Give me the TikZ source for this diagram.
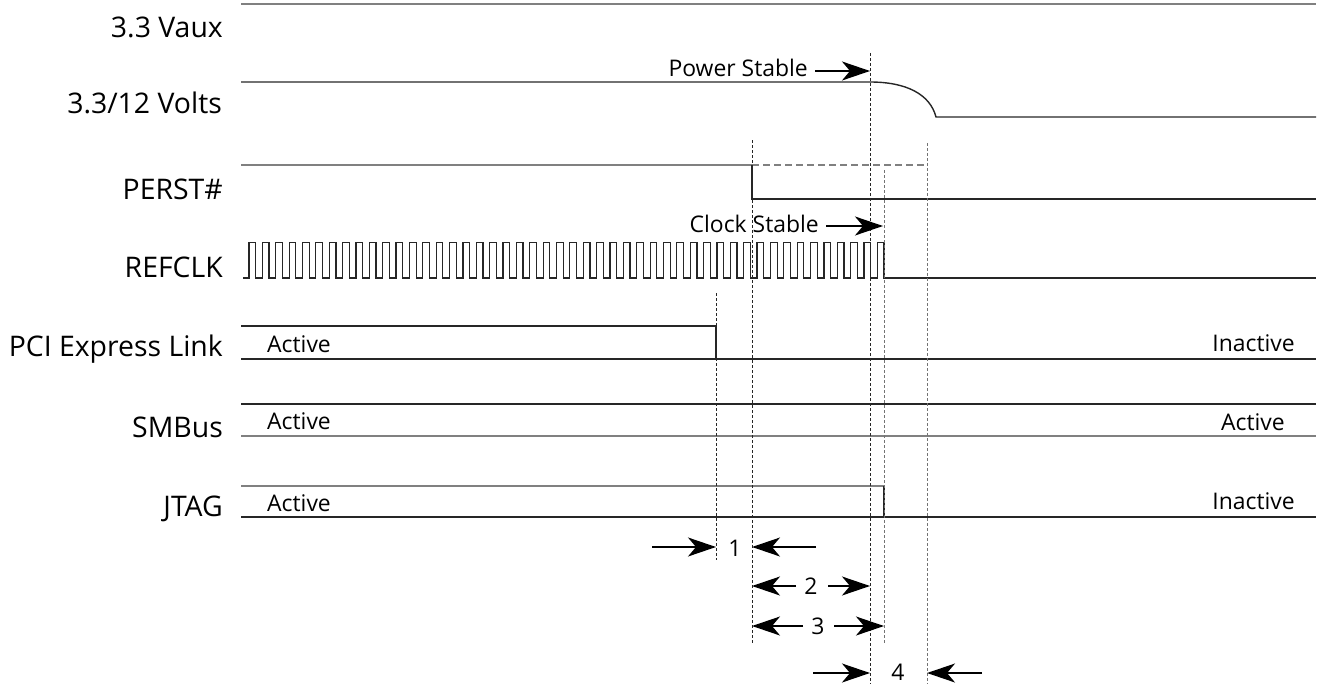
\documentclass[tikz,border=0pt]{standalone}
\usepackage{fontspec}
\setmainfont{Open Sans}
\usetikzlibrary{arrows.meta}
\begin{document}
\begin{tikzpicture}[x=1bp,y=-1bp,
  sig/.style={line width=1.4bp, draw=black!85},
  sigg/.style={line width=1.6bp, draw=black!50},
  guide/.style={line width=0.9bp, draw=black!85, dash pattern=on 3bp off 2bp},
  guideg/.style={line width=1bp, draw=black!55, dash pattern=on 3bp off 2bp},
  lab/.style={font=\fontsize{28.5}{29}\selectfont, anchor=base east, inner sep=0pt},
  small/.style={font=\fontsize{23}{23}\selectfont, inner sep=0pt},
  dimarr/.style={line width=1.4bp, -{Stealth[length=28bp,width=19bp,inset=8bp]}}]
\useasboundingbox (0,0) rectangle (1321,684);

% ---- labels
\node[lab] (lvaux)  at (223,37.3)  {3.3 Vaux};
\node[lab] (lvolts) at (222,113.3) {3.3/12 Volts};
\node[lab] (lperst) at (223,199.3) {PERST\#};
\node[lab] (lclk)   at (223,277.3) {REFCLK};
\node[lab] (lpci)   at (223,356.7) {PCI Express Link};
\node[lab] (lsmb)   at (223,437.7) {SMBus};
\node[lab] (ljtag)  at (223,516.7) {JTAG};

% ---- 3.3 Vaux
\draw[sigg] (241,4) -- (1316,4);
% ---- 3.3/12 Volts
\draw[sig] (241,82) -- (870,82) .. controls (906,82) and (930,94) .. (936,117) -- (1316,117);
% ---- PERST#
\draw[sigg] (241,165) -- (752,165);
\draw[sig] (752,165) -- (752,199) -- (1316,199);
\draw[sigg, dash pattern=on 7bp off 4bp, line width=1.3bp] (752,165) -- (927,165);
% ---- REFCLK
\draw[sig, line width=1.2bp] (243,278)
  foreach \k in {0,...,47} { -- ({249+13.37*\k},278) -- ({249+13.37*\k},242.7)
     -- ({255.68+13.37*\k},242.7) -- ({255.68+13.37*\k},278) } -- (1316,278);
% ---- PCI Express Link
\draw[sig] (241,326) -- (716,326) -- (716,359);
\draw[sig] (241,359) -- (1316,359);
% ---- SMBus
\draw[sig] (241,404) -- (1316,404);
\draw[sigg] (241,436) -- (1316,436);
% ---- JTAG
\draw[sigg] (241,486) -- (884,486);
\draw[sig] (884,486) -- (884,517);
\draw[sig] (241,517) -- (1316,517);

% ---- state texts
\node[small, anchor=base west] (a1) at (267,352.5) {Active};
\node[small, anchor=base east] (i1) at (1295,351)  {Inactive};
\node[small, anchor=base west] (a2) at (267,429.5) {Active};
\node[small, anchor=base east] (a3) at (1285,430)  {Active};
\node[small, anchor=base west] (a4) at (267,511.5) {Active};
\node[small, anchor=base east] (i2) at (1295,509.5) {Inactive};

% ---- guide lines
\coordinate (g1t) at (716,293); \coordinate (g1b) at (716,560);
\coordinate (g2t) at (752,140); \coordinate (g2b) at (752,643);
\coordinate (g3t) at (870,53);  \coordinate (g3b) at (870,684);
\coordinate (g4t) at (884,170); \coordinate (g4b) at (884,643);
\coordinate (g5t) at (927,143); \coordinate (g5b) at (927,684);
\draw[guide]  (g1t) -- (g1b);
\draw[guide]  (g2t) -- (g2b);
\draw[guide]  (g3t) -- (g3b);
\draw[guideg] (g4t) -- (g4b);
\draw[guideg] (g5t) -- (g5b);

% ---- stable markers
\node[small, anchor=base east] (pst) at (808,76.5) {Power Stable};
\coordinate (pstT) at (815,71); \coordinate (pstH) at (870,71);
\draw[dimarr] (pstT) -- (pstH);
\node[small, anchor=base east] (cst) at (819,232.5) {Clock Stable};
\coordinate (cstT) at (826,226); \coordinate (cstH) at (883,226);
\draw[dimarr] (cstT) -- (cstH);

% ---- timing dimensions
\node[small, anchor=base] (n1) at (735,556.5) {1};
\coordinate (d1a) at (652,547); \coordinate (d1b) at (716,547);
\coordinate (d1c) at (816,547); \coordinate (d1d) at (752,547);
\draw[dimarr] (d1a) -- (d1b);
\draw[dimarr] (d1c) -- (d1d);

\node[small, anchor=base] (n2) at (811,594) {2};
\coordinate (d2a) at (796,586); \coordinate (d2b) at (752,586);
\coordinate (d2c) at (828,586); \coordinate (d2d) at (870,586);
\draw[dimarr] (d2a) -- (d2b);
\draw[dimarr] (d2c) -- (d2d);

\node[small, anchor=base] (n3) at (818,634) {3};
\coordinate (d3a) at (803,626); \coordinate (d3b) at (752,626);
\coordinate (d3c) at (834,626); \coordinate (d3d) at (884,626);
\draw[dimarr] (d3a) -- (d3b);
\draw[dimarr] (d3c) -- (d3d);

\node[small, anchor=base] (n4) at (898,680.5) {4};
\coordinate (d4a) at (813,673); \coordinate (d4b) at (870,673);
\coordinate (d4c) at (982,673); \coordinate (d4d) at (927,673);
\draw[dimarr] (d4a) -- (d4b);
\draw[dimarr] (d4c) -- (d4d);
\end{tikzpicture}
\end{document}
